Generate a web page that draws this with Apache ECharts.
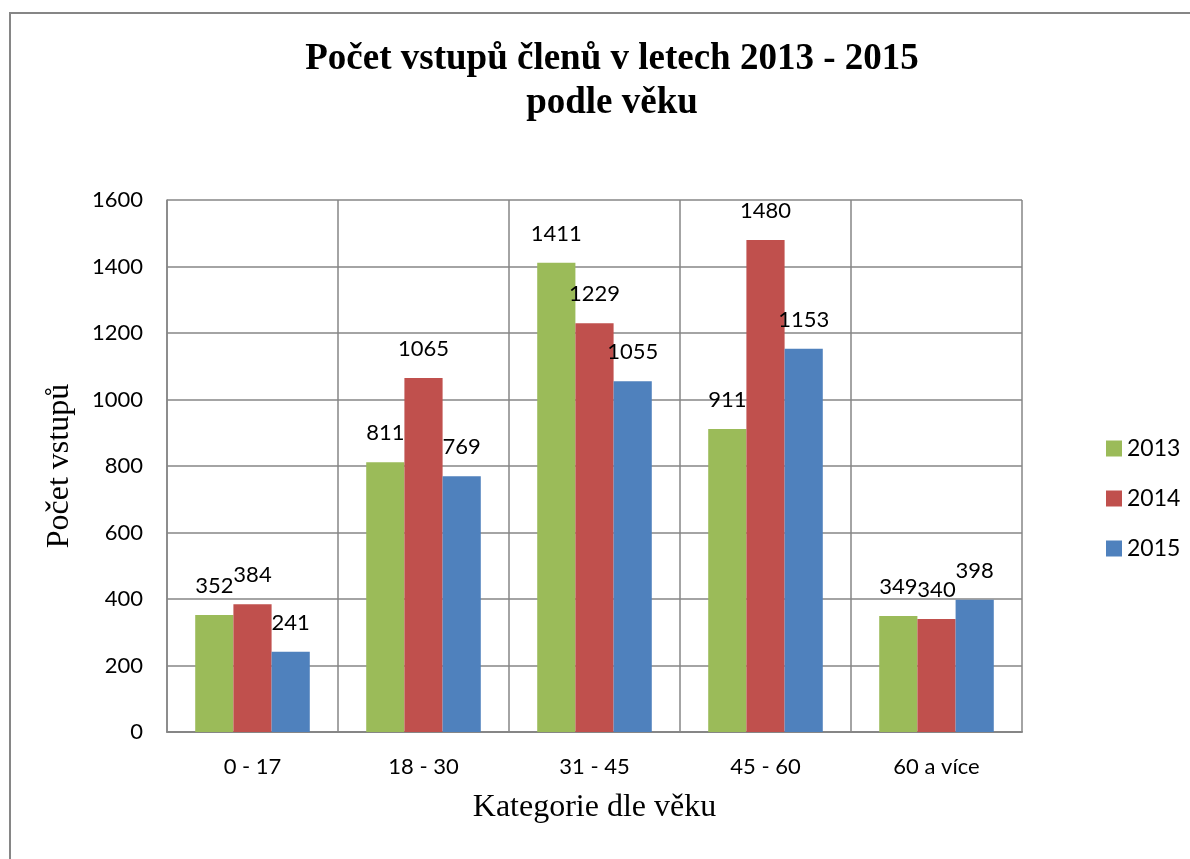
<!DOCTYPE html>
<html>
<head>
<meta charset="utf-8">
<script src="https://cdn.jsdelivr.net/npm/echarts@6/dist/echarts.min.js"></script>
<style>
    html, body { margin: 0; padding: 0; background: #fff; }
    #chart { width: 1190px; height: 859px; }
</style>
</head>
<body>
<div id="chart"></div>
<script>
// kategorie a hodnoty
const categories = ['0 - 17', '18 - 30', '31 - 45', '45 - 60', '60 a více'];
const years = ['2013', '2014', '2015'];
const values2013 = [352, 811, 1411, 911, 349];
const values2014 = [384, 1065, 1229, 1480, 340];
const values2015 = [241, 769, 1055, 1153, 398];
const colors = ['#9BBB59', '#C0504D', '#4F81BD'];

const labelFont = 'Lato, "Open Sans", sans-serif';
const serifFont = '"Liberation Serif", "DejaVu Serif", serif';

const myChart = echarts.init(document.getElementById('chart'), null, { renderer: 'canvas' });

function makeSeries(name, data, color) {
    return {
        name: name,
        type: 'bar',
        data: data,
        barGap: '0%',
        barCategoryGap: '33%',
        itemStyle: { color: color },
        label: {
            show: true,
            position: 'top',
            distance: 18,
            color: '#000',
            fontSize: 22,
            fontFamily: labelFont,
        },
    };
}

const option = {
    animation: false,
    backgroundColor: '#fff',
    color: colors,
    title: {
        text: 'Počet vstupů členů v letech 2013 - 2015\npodle věku',
        left: 607,
        top: 32,
        textAlign: 'center',
        textStyle: {
            fontFamily: serifFont,
            fontWeight: 'bold',
            fontSize: 37,
            lineHeight: 44,
            color: '#000',
        },
    },
    graphic: [
        {
            type: 'rect',
            shape: { x: 10, y: 13, width: 1300, height: 1000 },
            style: { fill: 'none', stroke: '#868686', lineWidth: 2 },
            silent: true,
        },
    ],
    legend: {
        orient: 'vertical',
        left: 1101,
        top: 432,
        itemWidth: 16,
        itemHeight: 16,
        itemGap: 27,
        icon: 'rect',
        data: years,
        textStyle: { fontFamily: labelFont, fontSize: 23, color: '#000' },
    },
    grid: {
        left: 167,
        right: 168,
        top: 200,
        bottom: 127,
        containLabel: false,
    },
    xAxis: {
        type: 'category',
        data: categories,
        name: 'Kategorie dle věku',
        nameLocation: 'middle',
        nameGap: 60,
        nameTextStyle: { fontFamily: serifFont, fontSize: 32, color: '#000' },
        axisLine: { lineStyle: { color: '#868686', width: 2 } },
        axisTick: { show: false },
        axisLabel: { color: '#000', fontFamily: labelFont, fontSize: 22, margin: 24 },
        splitLine: { show: true, lineStyle: { color: '#868686', width: 1.5 } },
    },
    yAxis: {
        type: 'value',
        min: 0,
        max: 1600,
        interval: 200,
        name: 'Počet vstupů',
        nameLocation: 'middle',
        nameGap: 91,
        nameTextStyle: { fontFamily: serifFont, fontSize: 32, color: '#000' },
        axisLine: { show: true, lineStyle: { color: '#868686', width: 1.5 } },
        axisTick: { show: false },
        axisLabel: {
            color: '#000',
            fontFamily: labelFont,
            fontSize: 22,
            margin: 24,
            formatter: value => String(value),
        },
        splitLine: { lineStyle: { color: '#868686', width: 1.5 } },
    },
    series: [
        makeSeries(years[0], values2013, colors[0]),
        makeSeries(years[1], values2014, colors[1]),
        makeSeries(years[2], values2015, colors[2]),
    ],
};

myChart.setOption(option);
window.addEventListener('resize', () => {
    myChart.resize();
});
</script>
</body>
</html>
